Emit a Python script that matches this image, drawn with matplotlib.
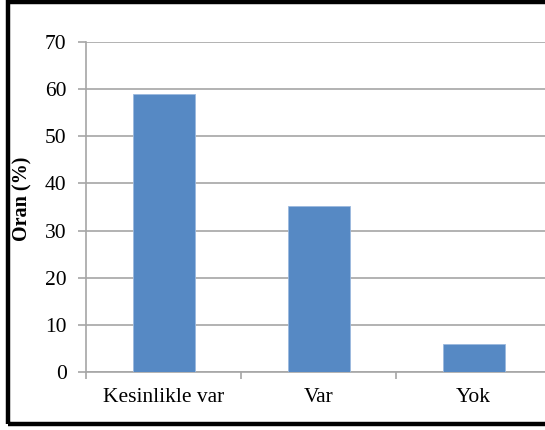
"""
Bar chart: Oran (%) by response category.
"""
import numpy as np
import matplotlib
matplotlib.use('Agg')
import matplotlib.pyplot as plt
from matplotlib.patches import Rectangle

categories = ['Kesinlikle var', 'Var', 'Yok']
values = [59.0, 35.3, 5.9]
yticks = [0, 10, 20, 30, 40, 50, 60, 70]

plt.rcParams['font.family'] = ['Liberation Serif', 'DejaVu Serif']

fig = plt.figure(figsize=(5.45, 4.30), dpi=100)
W, H = 545.0, 430.0
# axes runs past the right edge, as in the cropped reference
ax = fig.add_axes([86/W, 1-372/H, 465/W, 330/H])

x = np.arange(len(categories))
ax.bar(x, values, width=0.4, color='#5689c4', edgecolor='#9bb9de',
       linewidth=0.6, zorder=3)

ax.set_xlim(-0.5, len(categories)-0.5)
ax.set_ylim(0, 70)
ax.set_yticks(yticks)
ax.grid(axis='y', color='#a6a6a6', linewidth=1.2, zorder=0)

# boundaries as major ticks, labels on minor ticks at bar centres
ax.set_xticks(np.arange(-0.5, len(categories), 1.0))
ax.set_xticklabels([])
ax.set_xticks(x, minor=True)
ax.set_xticklabels(categories, minor=True, fontsize=15.5)
ax.tick_params(axis='x', which='major', length=5, color='#a6a6a6',
               width=1.2, direction='out')
ax.tick_params(axis='x', which='minor', length=0, pad=11.5)
ax.tick_params(axis='y', length=6, color='#a6a6a6', width=1.2,
               labelsize=15.5, pad=8)

for s in ['top', 'right']:
    ax.spines[s].set_visible(False)
for s in ['left', 'bottom']:
    ax.spines[s].set_color('#a6a6a6')
    ax.spines[s].set_linewidth(1.2)

fig.text(22/W, 1-199/H, 'Oran (%)', rotation=90, fontsize=14.5,
         fontweight='bold', ha='center', va='center')

# black frame around the chart (right side is cropped off)
fig.patches.append(Rectangle((8/W, 1-424/H), 560/W, 422/H,
                             transform=fig.transFigure, fill=False,
                             edgecolor='black', linewidth=3.2))

fig.savefig('out.png', dpi=100)
